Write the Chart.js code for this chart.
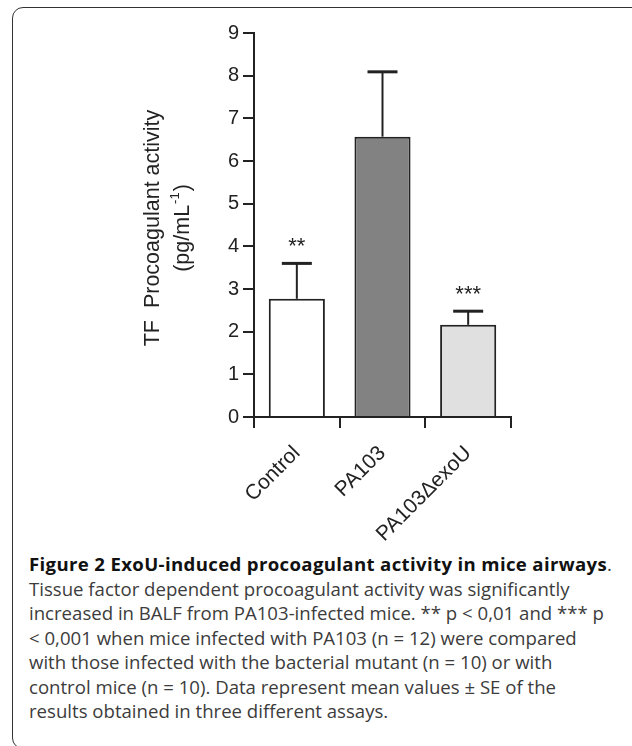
<!DOCTYPE html>
<html>
<head>
<meta charset="utf-8">
<script src="https://cdn.jsdelivr.net/npm/chart.js@4.4.1/dist/chart.umd.min.js"></script>
<style>
    html, body { margin: 0; padding: 0; width: 632px; height: 746px; overflow: hidden; background: #fff; }
    #frame {
        position: absolute; left: 12px; top: 7px; width: 660px; height: 740px;
        border: 1.5px solid #333; border-radius: 11px;
    }
    #chartCanvas { position: absolute; left: 0; top: 0; }
    #caption {
        position: absolute; left: 29px; top: 552px; width: 600px;
        font-family: "Open Sans", sans-serif; font-size: 18.6px; line-height: 24.5px;
        color: #3c3c3c; white-space: nowrap;
    }
    #caption b { color: #111; font-weight: 700; letter-spacing: 0.35px; }
</style>
</head>
<body>
<div id="frame"></div>
<canvas id="chartCanvas" width="632" height="550"></canvas>
<div id="caption">
    <b>Figure 2 ExoU-induced procoagulant activity in mice airways</b>.<br>
    Tissue factor dependent procoagulant activity was significantly<br>
    increased in BALF from PA103-infected mice. ** p &lt; 0,01 and *** p<br>
    &lt; 0,001 when mice infected with PA103 (n = 12) were compared<br>
    with those infected with the bacterial mutant (n = 10) or with<br>
    control mice (n = 10). Data represent mean values ± SE of the<br>
    results obtained in three different assays.
</div>
<script>
const categories = ["Control", "PA103", "PA103\u0394exoU"];
const means = [2.77, 6.57, 2.16];
const errors = [0.83, 1.52, 0.32];
const marks = ["**", "", "***"];
const barColors = ["#ffffff", "#818281", "#e0e0e0"];

const ink = "#222";
const axisFont = "Liberation Sans, Arial, sans-serif";

// upward-only SE bars + significance stars
const errorBars = {
    id: "errorBars",
    afterDatasetsDraw(chart) {
        const ctx = chart.ctx;
        const y = chart.scales.y;
        const meta = chart.getDatasetMeta(0);
        ctx.save();
        ctx.strokeStyle = ink;
        meta.data.forEach((bar, i) => {
            const top = y.getPixelForValue(means[i] + errors[i]);
            ctx.lineWidth = 2;
            ctx.beginPath();
            ctx.moveTo(bar.x, bar.y);
            ctx.lineTo(bar.x, top);
            ctx.stroke();
            ctx.lineWidth = 3;
            ctx.beginPath();
            ctx.moveTo(bar.x - 15, top);
            ctx.lineTo(bar.x + 15, top);
            ctx.stroke();
            if (marks[i]) {
                ctx.fillStyle = ink;
                ctx.font = "22px " + axisFont;
                ctx.textAlign = "center";
                ctx.textBaseline = "middle";
                ctx.fillText(marks[i], bar.x, top - 16);
            }
        });
        ctx.restore();
    }
};

// two-line rotated y title with a real superscript
const yTitle = {
    id: "yTitle",
    afterDraw(chart) {
        const ctx = chart.ctx;
        const cy = 228;
        ctx.save();
        ctx.fillStyle = ink;
        ctx.textBaseline = "middle";
        ctx.textAlign = "left";

        ctx.save();
        ctx.translate(153, cy);
        ctx.rotate(-Math.PI / 2);
        ctx.font = "21.5px " + axisFont;
        const l1 = "TF  Procoagulant activity";
        ctx.fillText(l1, -ctx.measureText(l1).width / 2, 0);
        ctx.restore();

        ctx.save();
        ctx.translate(183, cy);
        ctx.rotate(-Math.PI / 2);
        const big = "21.5px " + axisFont, small = "13px " + axisFont;
        ctx.font = big;
        const a = "(pg/mL", c = ")";
        const wa = ctx.measureText(a).width, wc = ctx.measureText(c).width;
        ctx.font = small;
        const b = "-1";
        const wb = ctx.measureText(b).width + 2;
        let x = -(wa + wb + wc) / 2;
        ctx.font = big;
        ctx.fillText(a, x, 0);
        x += wa;
        ctx.font = small;
        ctx.fillText(b, x + 1, -8);
        x += wb;
        ctx.font = big;
        ctx.fillText(c, x, 0);
        ctx.restore();

        ctx.restore();
    }
};

new Chart(document.getElementById("chartCanvas"), {
    type: "bar",
    data: {
        labels: categories,
        datasets: [{
            data: means,
            backgroundColor: barColors,
            borderColor: ink,
            borderWidth: 2,
            borderSkipped: "start",
            categoryPercentage: 1,
            barPercentage: 0.655
        }]
    },
    options: {
        responsive: false,
        animation: false,
        devicePixelRatio: 1,
        layout: { padding: { top: 33, right: 121, bottom: 0, left: 0 } },
        plugins: { legend: { display: false }, tooltip: { enabled: false } },
        scales: {
            x: {
                afterFit: s => { s.height = 133; },
                border: { display: true, color: ink, width: 2 },
                grid: { display: true, drawOnChartArea: false, drawTicks: true, tickLength: 11, color: ink, lineWidth: 2 },
                ticks: {
                    color: ink, font: { family: axisFont, size: 21 },
                    maxRotation: 45, minRotation: 45, padding: 13
                }
            },
            y: {
                min: 0, max: 9,
                afterFit: s => { s.width = 254; },
                border: { display: true, color: ink, width: 2 },
                grid: { display: true, drawOnChartArea: false, drawTicks: true, tickLength: 11, color: ink, lineWidth: 2 },
                ticks: {
                    stepSize: 1, color: ink, padding: 4,
                    font: { family: axisFont, size: 20 }
                }
            }
        }
    },
    plugins: [errorBars, yTitle]
});
</script>
</body>
</html>
